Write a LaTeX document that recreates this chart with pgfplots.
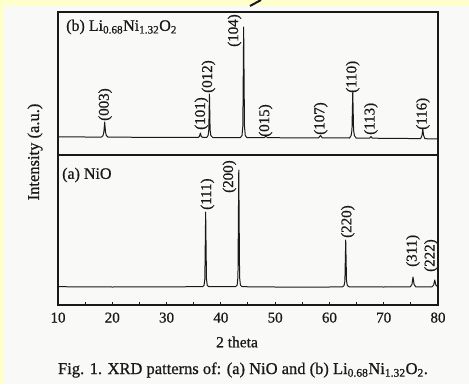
\documentclass[border=0pt]{standalone}
\usepackage{fontspec}
\setmainfont{Liberation Serif}[FakeBold=0.8]
\usepackage{pgfplots}
\pgfplotsset{compat=1.18}
\definecolor{bgy}{RGB}{255,255,204}
\definecolor{paper}{RGB}{249,249,247}
\definecolor{ink}{RGB}{25,25,25}
\newcommand{\pk}{\fontsize{15}{16}\selectfont}
\begin{document}
\begin{tikzpicture}[x=1pt,y=1pt]
\useasboundingbox (0,0) rectangle (469,384);
\fill[bgy] (0,0) rectangle (469,384);
\fill[paper] (4,0) rectangle (469,378);
\draw[line width=2pt, ink] (250,378) -- (261,384);
\pgfplotsset{
  every axis/.append style={
    scale only axis, width=380pt, xmin=10, xmax=80,
    axis line style={line width=1.5pt, ink},
    clip=false,
  },
}
% bottom panel: NiO
\begin{axis}[at={(58pt,79pt)}, anchor=south west, height=150pt,
  ymin=-18, ymax=132, ytick=\empty,
  xtick={10,20,...,80}, minor xtick={15,25,...,75},
  xtick pos=left, tick align=inside,
  major tick length=3.5pt, minor tick length=3.5pt,
  tick style={line width=1pt, ink},
  xticklabel style={font=\fontsize{15}{16}\selectfont, text=ink, yshift=-4pt},
  /pgf/number format/assume math mode=true,
]
\addplot[ink, line width=1pt, line join=round] coordinates {
(10,0.3) (20,0) (30,0.2) (36.6,0.3) (36.9,1.5) (37.05,8) (37.2,75) (37.35,8) (37.5,1.5) (37.8,0.3)
(42.7,0.3) (43.0,1.8) (43.15,10) (43.3,117) (43.45,10) (43.6,1.8) (43.9,0.3) (50,0) (60,0)
(62.4,0.2) (62.7,1.5) (62.85,6) (63.0,47) (63.15,6) (63.3,1.5) (63.6,0.2) (70,0)
(74.9,0.2) (75.2,2.5) (75.4,10) (75.6,2.5) (75.9,0.2) (78.9,0.2) (79.2,2) (79.4,7) (79.6,2) (79.9,0.5) (80,0.3)
};
\node[rotate=90, anchor=west, inner sep=0pt, font=\pk, text=ink] at (axis cs:37.52,77) {(111)};
\node[rotate=90, anchor=west, inner sep=0pt, font=\pk, text=ink] at (axis cs:41.58,94) {(200)};
\node[rotate=90, anchor=west, inner sep=0pt, font=\pk, text=ink] at (axis cs:63.38,49) {(220)};
\node[rotate=90, anchor=west, inner sep=0pt, font=\pk, text=ink] at (axis cs:75.39,20) {(311)};
\node[rotate=90, anchor=west, inner sep=0pt, font=\pk, text=ink] at (axis cs:78.71,15) {(222)};
\end{axis}
% top panel: Li0.68Ni1.32O2
\begin{axis}[at={(58pt,229pt)}, anchor=south west, height=143pt,
  ymin=-17, ymax=126, ytick=\empty, xtick=\empty,
]
\addplot[ink, line width=1pt, line join=round] coordinates {
(10,1.2) (15,1) (18.0,0.9) (18.3,2.5) (18.45,6) (18.6,16) (18.75,6) (18.9,2.5) (19.2,0.9) (25,0.7) (30,0.6)
(35.8,0.5) (36.05,1.5) (36.23,5) (36.4,1.5) (36.7,0.5)
(37.4,0.6) (37.65,2.5) (37.78,8) (37.9,44) (38.02,8) (38.15,2.5) (38.5,0.5)
(43.6,0.4) (43.9,2.5) (44.05,12) (44.2,111) (44.35,12) (44.5,2.5) (44.8,0.4)
(48.0,0.3) (48.3,1.8) (48.6,0.3) (58.0,0.1) (58.35,2.5) (58.7,0.1)
(63.7,0) (64.0,2.5) (64.15,8) (64.3,46) (64.45,8) (64.6,2.5) (64.9,0)
(67.4,-0.2) (67.65,1.5) (67.9,-0.2) (76.8,-0.6) (77.05,2.5) (77.2,9) (77.35,2.5) (77.6,-0.7) (80,-1)
};
\node[rotate=90, anchor=west, inner sep=0pt, font=\pk, text=ink] at (axis cs:18.68,17) {(003)};
\node[rotate=90, anchor=west, inner sep=0pt, font=\pk, text=ink] at (axis cs:36.41,8) {(101)};
\node[rotate=90, anchor=west, inner sep=0pt, font=\pk, text=ink] at (axis cs:37.71,45) {(012)};
\node[rotate=90, anchor=west, inner sep=0pt, font=\pk, text=ink] at (axis cs:42.51,91) {(104)};
\node[rotate=90, anchor=west, inner sep=0pt, font=\pk, text=ink] at (axis cs:48.23,1) {(015)};
\node[rotate=90, anchor=west, inner sep=0pt, font=\pk, text=ink] at (axis cs:58.39,3) {(107)};
\node[rotate=90, anchor=west, inner sep=0pt, font=\pk, text=ink] at (axis cs:64.30,45) {(110)};
\node[rotate=90, anchor=west, inner sep=0pt, font=\pk, text=ink] at (axis cs:67.63,3) {(113)};
\node[rotate=90, anchor=west, inner sep=0pt, font=\pk, text=ink] at (axis cs:77.23,8) {(116)};
\end{axis}
\node[anchor=west, inner sep=0pt, text=ink, font=\fontsize{16}{18}\selectfont] at (66,357) {(b) Li\textsubscript{0.68}Ni\textsubscript{1.32}O\textsubscript{2}};
\node[anchor=west, inner sep=0pt, text=ink, font=\fontsize{16}{18}\selectfont] at (62,209) {(a) NiO};
\node[rotate=90, inner sep=0pt, text=ink, font=\fontsize{16.5}{18}\selectfont] at (35,232) {Intensity (a.u.)};
\node[inner sep=0pt, text=ink, font=\fontsize{15.5}{18}\selectfont] at (237,42) {2 theta};
\node[inner sep=0pt, text=ink, font=\fontsize{16.5}{18}\selectfont] at (243,14) {Fig. 1. XRD patterns of: (a) NiO and (b) Li\textsubscript{0.68}Ni\textsubscript{1.32}O\textsubscript{2}.};
\end{tikzpicture}
\end{document}
